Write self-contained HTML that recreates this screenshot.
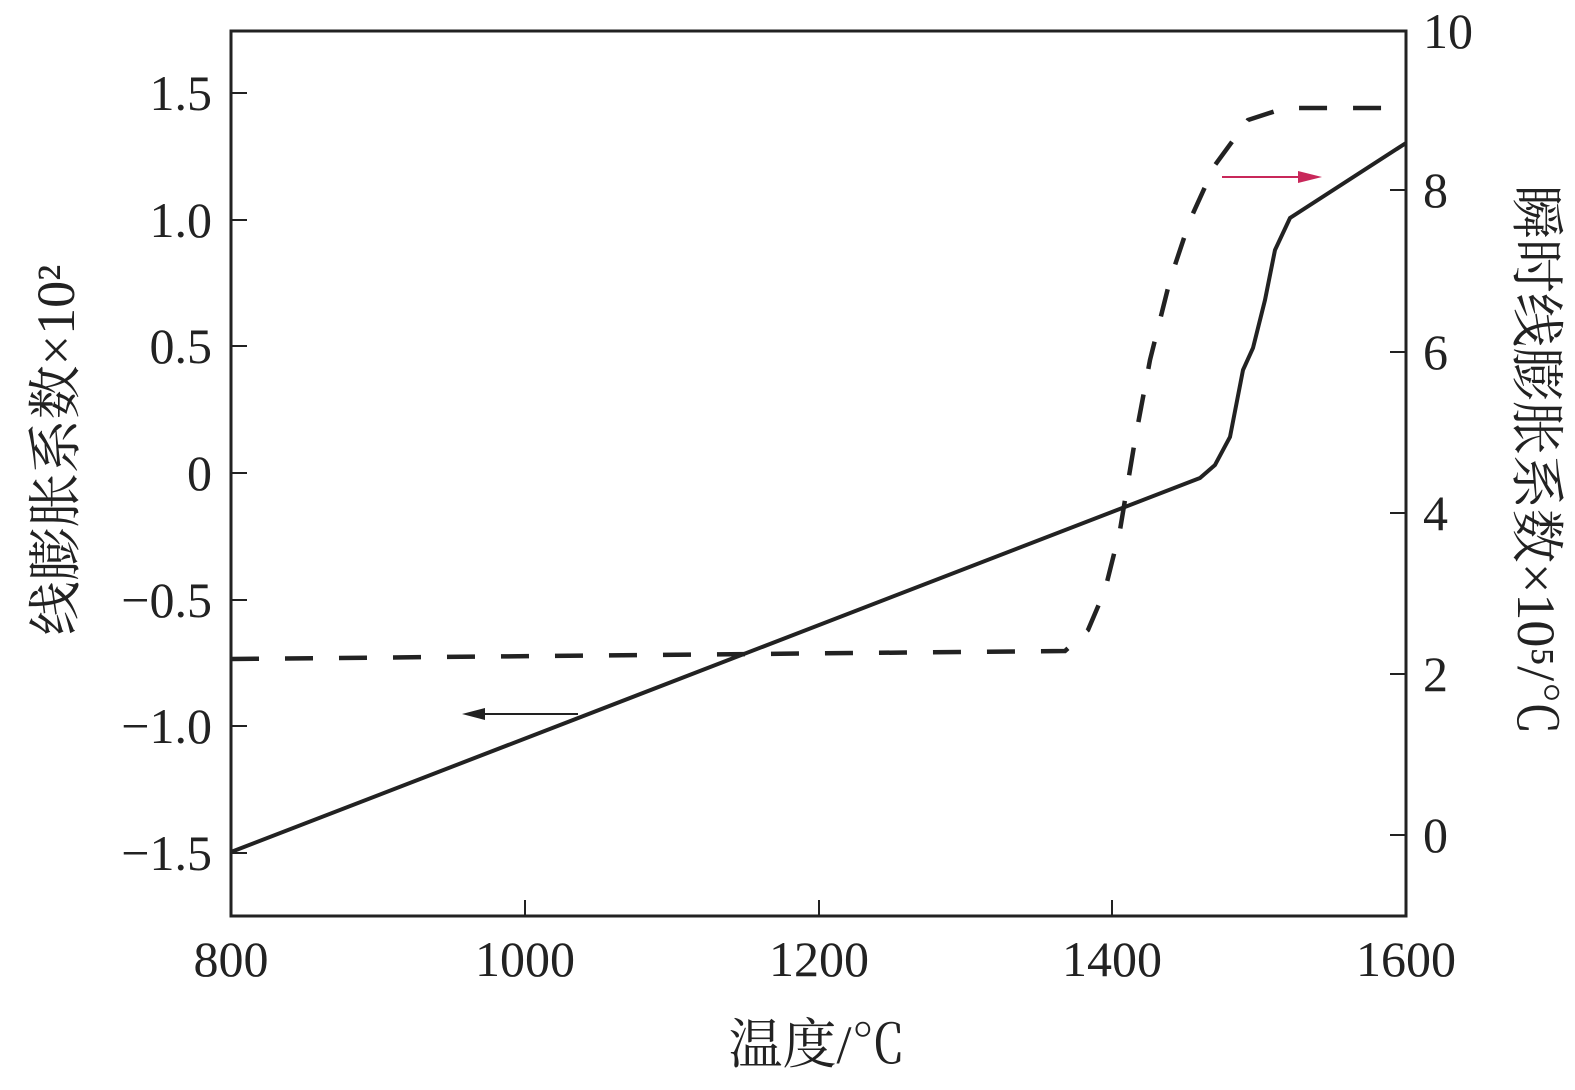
<!DOCTYPE html>
<html><head><meta charset="utf-8"><style>
body{margin:0;background:#fff}
text{font-family:"Liberation Serif","Noto Serif CJK SC",serif;fill:#222}
</style></head><body>
<svg width="1575" height="1085" xmlns="http://www.w3.org/2000/svg">
<rect x="231" y="31" width="1175" height="885" fill="none" stroke="#222" stroke-width="3"/>
<g stroke="#222" stroke-width="2">
<line x1="231" y1="93" x2="247" y2="93"/><line x1="231" y1="220" x2="247" y2="220"/><line x1="231" y1="346" x2="247" y2="346"/><line x1="231" y1="473" x2="247" y2="473"/><line x1="231" y1="600" x2="247" y2="600"/><line x1="231" y1="726" x2="247" y2="726"/><line x1="231" y1="853" x2="247" y2="853"/>
<line x1="1406" y1="190" x2="1390" y2="190"/><line x1="1406" y1="352" x2="1390" y2="352"/><line x1="1406" y1="513" x2="1390" y2="513"/><line x1="1406" y1="674" x2="1390" y2="674"/><line x1="1406" y1="835" x2="1390" y2="835"/>
<line x1="525" y1="916" x2="525" y2="900"/><line x1="819" y1="916" x2="819" y2="900"/><line x1="1112" y1="916" x2="1112" y2="900"/>
</g>
<g font-size="50" text-anchor="end">
<text x="212" y="110">1.5</text><text x="212" y="237">1.0</text><text x="212" y="363">0.5</text><text x="212" y="490">0</text><text x="212" y="617">−0.5</text><text x="212" y="743">−1.0</text><text x="212" y="870">−1.5</text>
</g>
<g font-size="50" text-anchor="start">
<text x="1423" y="48">10</text><text x="1423" y="207">8</text><text x="1423" y="369">6</text><text x="1423" y="530">4</text><text x="1423" y="691">2</text><text x="1423" y="852">0</text>
</g>
<g font-size="50" text-anchor="middle">
<text x="231" y="976">800</text><text x="525" y="976">1000</text><text x="819" y="976">1200</text><text x="1112" y="976">1400</text><text x="1406" y="976">1600</text>
<text x="817" y="1063" font-size="54">温度/℃</text>
</g>
<text font-size="54" text-anchor="middle" transform="translate(74,450) rotate(-90)">线膨胀系数×10²</text>
<text font-size="54" text-anchor="middle" transform="translate(1518,460) rotate(90)">瞬时线膨胀系数×10⁵/℃</text>
<polyline fill="none" stroke="#222" stroke-width="4" points="231,852 1200,478 1215,465 1230,437 1243,370 1253,348 1265,300 1275,250 1290,218 1406,143"/>
<polyline fill="none" stroke="#222" stroke-width="4.5" stroke-dasharray="28,26" points="231,659 1065,651 1088,630 1105,590 1120,530 1135,440 1150,360 1170,280 1190,220 1215,165 1248,120 1285,108 1406,108"/>
<line x1="578" y1="714" x2="475" y2="714" stroke="#222" stroke-width="2"/>
<polygon points="462,714 485,708 485,720" fill="#222"/>
<line x1="1222" y1="177" x2="1305" y2="177" stroke="#c8285a" stroke-width="2"/>
<polygon points="1322,177 1298,171 1298,183" fill="#c8285a"/>
</svg>
</body></html>
